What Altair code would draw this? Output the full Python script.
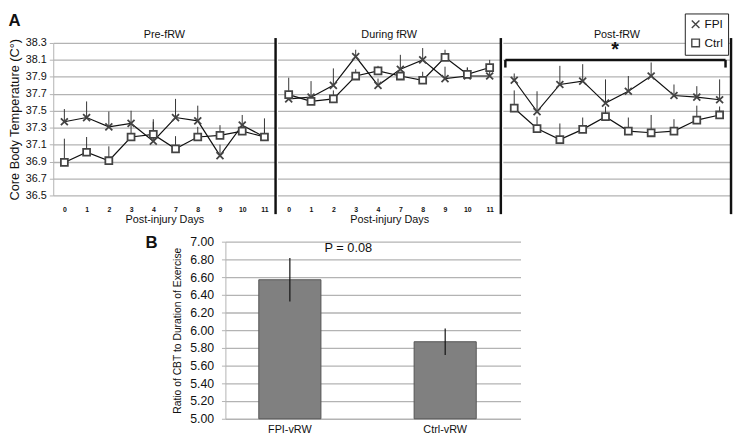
import altair as alt
import pandas as pd

FONT = "Liberation Sans"

days = ["0", "1", "2", "3", "4", "7", "8", "9", "10", "11"]
panels = ["Pre-fRW", "During fRW", "Post-fRW"]
groups = ["FPI", "Ctrl"]

pre_fpi = [37.37, 37.42, 37.31, 37.35, 37.14, 37.42, 37.38, 36.97, 37.33, 37.19]
pre_fpi_sem = [0.15, 0.19, 0.18, 0.15, 0.26, 0.22, 0.18, 0.13, 0.12, 0.22]
pre_ctrl = [36.89, 37.01, 36.91, 37.19, 37.22, 37.05, 37.19, 37.21, 37.26, 37.19]
pre_ctrl_sem = [0.28, 0.18, 0.17, 0.15, 0.15, 0.15, 0.12, 0.12, 0.04, 0.09]

dur_fpi = [37.64, 37.66, 37.80, 38.14, 37.80, 37.99, 38.10, 37.88, 37.91, 37.91]
dur_fpi_sem = [0.05, 0.19, 0.20, 0.08, 0.08, 0.17, 0.14, 0.14, 0.10, 0.06]
dur_ctrl = [37.69, 37.61, 37.64, 37.91, 37.97, 37.91, 37.86, 38.13, 37.93, 38.01]
dur_ctrl_sem = [0.20, 0.04, 0.10, 0.08, 0.06, 0.05, 0.10, 0.09, 0.08, 0.09]

post_fpi = [37.86, 37.49, 37.81, 37.85, 37.59, 37.73, 37.91, 37.68, 37.66, 37.63]
post_fpi_sem = [0.08, 0.24, 0.22, 0.20, 0.28, 0.18, 0.16, 0.13, 0.13, 0.24]
post_ctrl = [37.53, 37.29, 37.16, 37.28, 37.43, 37.26, 37.24, 37.26, 37.39, 37.45]
post_ctrl_sem = [0.21, 0.14, 0.19, 0.14, 0.12, 0.16, 0.21, 0.14, 0.17, 0.10]

y_ticks_a = [36.5, 36.7, 36.9, 37.1, 37.3, 37.5, 37.7, 37.9, 38.1, 38.3]

bar_labels = ["FPI-vRW", "Ctrl-vRW"]
bar_values = [6.57, 5.87]
bar_sem = [0.245, 0.15]
y_ticks_b = [5.0, 5.2, 5.4, 5.6, 5.8, 6.0, 6.2, 6.4, 6.6, 6.8, 7.0]

GRID = "#b3b3b3"
H_A = 155
WIDTHS = [226, 227, 232]


def panel_df(fpi, fpi_sem, ctrl, ctrl_sem):
    rows = []
    for d, m, s in zip(days, fpi, fpi_sem):
        rows.append({"day": d, "group": "FPI", "mean": m, "top": m + s})
    for d, m, s in zip(days, ctrl, ctrl_sem):
        rows.append({"day": d, "group": "Ctrl", "mean": m, "top": m + s})
    return pd.DataFrame(rows)


dfs = [
    panel_df(pre_fpi, pre_fpi_sem, pre_ctrl, pre_ctrl_sem),
    panel_df(dur_fpi, dur_fpi_sem, dur_ctrl, dur_ctrl_sem),
    panel_df(post_fpi, post_fpi_sem, post_ctrl, post_ctrl_sem),
]

X_PATH = "M-1,-1L1,1M1,-1L-1,1"

LEGEND = alt.Legend(
    title=None, orient="none", legendX=642, legendY=-30,
    strokeColor="#222", fillColor="white", padding=5, labelFontSize=12,
    labelFont=FONT, symbolSize=60, rowPadding=5, symbolStrokeWidth=1.4,
    labelColor="#111", labelOffset=3,
)

XSCALE = alt.Scale(type="point", domain=days, padding=0.5)
YSCALE_A = alt.Scale(domain=[36.5, 38.3], nice=False, zero=False)


def make_panel(i):
    df = dfs[i]
    first = i == 0
    last = i == 2
    x = alt.X(
        "day:O",
        scale=XSCALE,
        axis=alt.Axis(
            title="Post-injury Days", labelAngle=0, labelFontSize=7,
            labelFontWeight="bold", labelPadding=10, ticks=False, domain=False,
            titleFontSize=11, titleFontWeight="normal", titlePadding=2,
            titleFont=FONT, labelFont=FONT, grid=False, labelColor="#111",
            titleColor="#111",
        ),
    )
    if first:
        yaxis = alt.Axis(
            values=y_ticks_a, format=".1f", title="Core Body Temperature (C°)",
            labelFontSize=11, titleFontSize=13, titleFontWeight="normal",
            labelFont=FONT, titleFont=FONT, gridColor=GRID, gridWidth=1.3,
            domainColor=GRID, tickColor=GRID, tickSize=4, labelPadding=3,
            titlePadding=4, labelOverlap=False, labelColor="#111", titleColor="#111",
        )
    else:
        yaxis = alt.Axis(
            values=y_ticks_a, labels=False, ticks=False, domain=False, title=None,
            gridColor=GRID, gridWidth=1.3,
        )
    y = alt.Y("mean:Q", scale=YSCALE_A, axis=yaxis)
    base = alt.Chart(df)
    err = base.mark_rule(color="#333", strokeWidth=1).encode(
        x=x, y=y, y2="top:Q", detail="group:N"
    )
    lines = base.mark_line(color="#111", strokeWidth=1.2).encode(
        x=x, y=y, detail="group:N"
    )
    pts = base.mark_point(size=50, strokeWidth=1.8, stroke="#444", opacity=1).encode(
        x=x, y=y,
        shape=alt.Shape("group:N", sort=groups,
                        scale=alt.Scale(domain=groups, range=[X_PATH, "square"]),
                        legend=LEGEND),
        fill=alt.Fill("group:N", sort=groups,
                      scale=alt.Scale(domain=groups, range=["#888", "white"]),
                      legend=LEGEND),
    )
    sep = alt.Chart(df.head(1)).mark_rule(color="#111", strokeWidth=2.5).encode(
        x=alt.value(WIDTHS[i]), y=alt.value(-5), y2=alt.value(H_A + 19)
    )
    layers = [err, lines, pts, sep]
    if last:
        br = pd.DataFrame({"a": ["0"], "b": ["11"], "mean": [38.1], "y0": [38.01]})
        bx = alt.X("a:O", scale=XSCALE, axis=None)
        bx2 = alt.X("b:O", scale=XSCALE, axis=None)
        bracket = alt.Chart(br).mark_rule(color="#111", strokeWidth=2.5, xOffset=-9, x2Offset=6).encode(
            x=bx, x2="b:O", y=y
        )
        endl = alt.Chart(br).mark_rule(color="#111", strokeWidth=2.5, xOffset=-9).encode(
            x=bx, y=y, y2="y0:Q"
        )
        endr = alt.Chart(br).mark_rule(color="#111", strokeWidth=2.5, xOffset=6).encode(
            x=bx2, y=y, y2="y0:Q"
        )
        star = alt.Chart(pd.DataFrame({"t": ["*"], "mean": [38.22]})).mark_text(
            fontSize=20, font=FONT, fontWeight="bold", baseline="middle", color="#111"
        ).encode(x=alt.value(WIDTHS[2] / 2 - 2), y=y, text="t:N")
        layers += [bracket, endl, endr, star]
    return alt.layer(*layers).properties(
        width=WIDTHS[i], height=H_A,
        title=alt.Title(panels[i], fontSize=11, font=FONT, fontWeight="normal",
                        offset=-3, color="#111"),
    )


row_a = alt.hconcat(*[make_panel(i) for i in range(3)], spacing=0).properties(
    title=alt.Title("A", anchor="start", fontSize=17, font=FONT, fontWeight="bold",
                    offset=-1, color="#111")
)

dfb = pd.DataFrame({
    "label": bar_labels, "value": bar_values,
    "lo": [v - s for v, s in zip(bar_values, bar_sem)],
    "hi": [v + s for v, s in zip(bar_values, bar_sem)],
})
xb = alt.X("label:N", sort=bar_labels,
           scale=alt.Scale(paddingInner=0.6, paddingOuter=0.25, align=0.43),
           axis=alt.Axis(title=None, labelAngle=0, labelFontSize=11, labelFont=FONT,
                         ticks=False, domain=False, labelPadding=5, labelColor="#111"))
YAXIS_B = alt.Axis(values=y_ticks_b, format=".2f",
                   title="Ratio of CBT to Duration of Exercise",
                   labelFontSize=12.5, titleFontSize=10.5, titleFontWeight="normal",
                   labelFont=FONT, titleFont=FONT, gridColor=GRID, gridWidth=1.3,
                   domainColor=GRID, tickColor=GRID, tickSize=4, labelPadding=8,
                   titlePadding=7, labelOverlap=False, labelColor="#111",
                   titleColor="#111")
YSCALE_B = alt.Scale(domain=[5, 7], nice=False, zero=False)
bars = alt.Chart(dfb).mark_bar(color="#808080", stroke="#555", strokeWidth=1).encode(
    x=xb, y=alt.Y("value:Q", scale=YSCALE_B, axis=YAXIS_B), y2=alt.datum(5.0))
errb = alt.Chart(dfb).mark_rule(color="#111", strokeWidth=1.2).encode(
    x=xb, y=alt.Y("lo:Q", scale=YSCALE_B, axis=YAXIS_B), y2="hi:Q")
ptxt = alt.Chart(pd.DataFrame({"t": ["P = 0.08"], "value": [6.93]})).mark_text(
    fontSize=13, font=FONT, color="#111"
).encode(x=alt.value(125), y=alt.Y("value:Q", scale=YSCALE_B, axis=YAXIS_B), text="t:N")
chart_b = alt.layer(bars, errb, ptxt).properties(
    width=300, height=180,
    title=alt.Title("B", anchor="start", frame="bounds", fontSize=17, font=FONT,
                    fontWeight="bold", offset=-16, dx=-28, color="#111"),
)
spacer = alt.Chart(pd.DataFrame({"v": [0]})).mark_text(text="").encode(
    x=alt.value(0), y=alt.value(0)
).properties(width=83, height=1)
row_b = alt.hconcat(spacer, chart_b, spacing=10)

chart = alt.vconcat(row_a, row_b, spacing=9).configure(
    padding=0, font=FONT
).configure_view(stroke=None)

chart.save("out.html", embed_options={"renderer": "svg", "actions": False})
